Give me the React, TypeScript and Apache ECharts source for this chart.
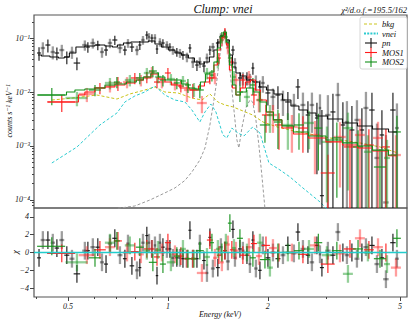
import { useEffect, useRef } from "react";
import * as echarts from "echarts";

// ---------- axis limits ----------
const E_MIN = 0.395;
const E_MAX = 5.25;
const RATE_MIN = 7.1e-5;
const RATE_MAX = 0.267;
const CHI_MIN = -5;
const CHI_MAX = 5;

const xMajorTicks = [0.5, 1, 2, 5];
const xMinorTicks = [0.4, 0.6, 0.7, 0.8, 0.9, 3, 4];
const yMajorExp = [-4, -3, -2, -1];
const chiTicks = [-4, -2, 0, 2, 4];

// ---------- pn data ----------
const pnE = [0.409,0.420,0.435,0.450,0.463,0.479,0.496,0.514,0.532,0.562,0.574,0.594,0.615,0.633,0.651,0.669,0.692,0.717,0.742,0.758,0.779,0.807,0.823,0.841,0.864,0.877,0.895,0.914,0.927,0.946,0.966,0.993,1.014,1.035,1.064,1.087,1.110,1.141,1.165,1.189,1.223,1.248,1.284,1.311,1.338,1.366,1.414,1.444,1.485,1.516,1.570,1.592,1.648,1.682,1.730,1.766,1.803,1.841,1.893,1.932,2.001,2.072,2.145,2.221,2.298,2.396,2.464,2.551,2.641,2.715,2.811,2.871,2.910,3.033,3.141,3.251,3.366,3.461,3.583,3.710,3.840,3.949,4.117,4.262,4.412,4.536,4.762,4.896];
const pnRate = [0.0528,0.0653,0.0742,0.0551,0.0528,0.0599,0.0445,0.0551,0.0344,0.0742,
0.0681,0.0808,0.0742,0.0551,0.0599,0.0808,0.0919,0.0653,0.0599,0.0808,
0.0681,0.0599,0.0742,0.0919,0.1137,0.1044,0.1,0.1,0.0626,0.0843,
0.0808,0.0742,0.0681,0.0599,0.0551,0.0528,0.0484,0.0445,0.0653,0.0359,
0.0316,0.0359,0.0303,0.0426,0.0599,0.0681,0.0808,0.1044,0.1238,0.0808,
0.0599,0.0344,0.0182,0.0182,0.0182,0.0167,0.0278,0.0153,0.0124,0.0147,
0.0096,0.0081,0.0088,0.0071,0.00654,0.00575,0.0124,0.00575,0.00375,0.00575,
0.0033,0.00506,0.00012,0.00375,0.00427,0.0088,0.00245,0.00278,0.00198,0.00304,
0.00198,0.00506,0.00464,0.0006,0.0016,0.00009,0.00464,0.00215];
const pnErr = [0.015,0.018,0.02,0.015,0.014,0.015,0.012,0.014,0.009,0.016,
0.015,0.017,0.015,0.012,0.013,0.016,0.018,0.013,0.012,0.015,
0.013,0.012,0.014,0.017,0.02,0.019,0.018,0.018,0.012,0.015,
0.014,0.013,0.012,0.011,0.010,0.010,0.009,0.009,0.012,0.008,
0.007,0.008,0.007,0.009,0.012,0.013,0.015,0.018,0.02,0.015,
0.012,0.008,0.005,0.005,0.005,0.005,0.007,0.005,0.004,0.005,
0.004,0.0035,0.004,0.0035,0.0035,0.0035,0.005,0.004,0.003,0.004,
0.003,0.004,0.0045,0.005,0.005,0.006,0.004,0.004,0.0035,0.004,
0.003,0.005,0.005,0.002,0.003,0.0015,0.005,0.004];
const pnChi = [-0.6,1.4,1.4,1.1,0.5,1.4,-0.3,-0.7,-2.4,0.2,
0.2,0.6,0.6,-1.1,-1.3,1.0,1.6,-0.3,-0.7,1.0,
-1.5,-2.0,-1.7,1.1,1.9,1.1,0.4,0.8,-2.6,1.1,
0.6,0.4,0.4,-0.6,-0.6,-0.6,-0.7,-0.7,2.5,-0.7,
-0.7,1.0,-0.9,-2.3,1.7,-1.8,-1.7,0.6,0.2,-1.0,
2.6,-0.6,0.4,0.2,-0.3,-1.3,1.4,-1.8,-2.0,0.8,
-0.6,0.0,-0.7,-0.3,0.8,-0.1,2.3,0.4,-0.3,-1.1,
0.8,-0.2,-1.7,0.2,-0.3,2.3,0.0,-0.3,0.0,-0.7,
0.0,0.6,0.8,-1.3,-0.6,-3.0,1.1,-0.7];

// ---------- MOS1 data ----------
const mos1E = [0.479,0.570,0.624,0.669,0.707,0.753,0.795,0.829,0.864,0.895,0.927,0.959,1.0,1.050,1.094,1.141,1.189,1.266,1.338,1.386,1.424,1.454,1.485,1.516,1.558,1.603,1.682,1.754,1.816,1.880,1.974,2.072,2.160,2.363,2.551,2.773,3.033,3.298,3.535,3.789,4.031,4.294,4.536,4.864];
const mos1HalfW = [0.0465,0.0316,0.026,0.023,0.0196,0.021,0.022,0.0172,0.018,0.0186,0.0193,0.020,0.0208,0.0218,0.0228,0.0237,0.0247,0.0439,0.0278,0.0192,0.0198,0.0202,0.0206,0.021,0.0216,0.0334,0.035,0.0365,0.0378,0.039,0.0548,0.0575,0.06,0.0983,0.0885,0.0962,0.147,0.137,0.147,0.131,0.14,0.149,0.126,0.169];
const mos1Rate = [0.00654,0.0092,0.0119,0.0129,0.0147,0.0153,0.0182,0.0167,0.019,0.0235,0.0153,0.0153,0.0225,0.0141,0.0129,0.0109,0.0109,0.00625,0.0182,0.0182,0.0426,0.0919,0.1238,0.0653,0.0359,0.0167,0.0167,0.019,0.0088,0.0071,0.00375,0.00375,0.00245,0.00225,0.00215,0.0016,0.000316,0.00147,0.00096,0.0016,0.00104,0.00141,0.00096,0.00068];
const mos1Err = [0.0023,0.0027,0.0028,0.0031,0.0043,0.0036,0.0043,0.004,0.0045,0.0056,0.0036,0.0036,0.0054,0.0034,0.0031,0.0044,0.0032,0.0022,0.0043,0.0043,0.01,0.022,0.029,0.0155,0.0085,0.0049,0.0049,0.0055,0.0031,0.0029,0.002,0.002,0.0016,0.0015,0.0014,0.0013,0.00037,0.0013,0.001,0.0016,0.001,0.0014,0.0011,0.0009];
const mos1Chi = [-0.1,-0.3,0.3,0.6,1.3,0.0,0.1,-0.2,0.4,0.4,-0.5,0.0,1.1,-0.2,-0.4,-0.7,-0.7,-2.3,1.4,-0.6,-0.3,-1.1,0.2,0.9,0.3,0.2,-0.3,0.6,1.0,-0.4,0.8,0.5,0.0,0.0,-0.2,0.8,-1.3,-0.1,0.4,1.6,0.3,0.6,0.0,-1.7];

// ---------- MOS2 data ----------
const mos2E = [0.447,0.532,0.603,0.669,0.702,0.768,0.823,0.864,0.901,0.933,0.966,1.021,1.064,1.110,1.149,1.198,1.248,1.311,1.357,1.414,1.454,1.495,1.537,1.581,1.648,1.730,1.803,1.893,1.960,2.029,2.145,2.298,2.482,2.66,2.838,3.012,3.228,3.486,3.738,4.003,4.353,4.57,4.896];
const mos2HalfW = [0.0434,0.0406,0.0251,0.0232,0.0146,0.0266,0.0228,0.018,0.025,0.0194,0.0201,0.0283,0.0221,0.0231,0.0239,0.0249,0.0346,0.0273,0.0188,0.0196,0.0202,0.0207,0.0213,0.0219,0.0343,0.036,0.0375,0.0394,0.068,0.0422,0.0595,0.0797,0.0861,0.0922,0.0787,0.104,0.112,0.121,0.13,0.111,0.181,0.095,0.136];
const mos2Rate = [0.0088,0.00774,0.0109,0.0147,0.0153,0.0167,0.0182,0.0225,0.0245,0.019,0.0167,0.0174,0.0147,0.016,0.0135,0.0114,0.0109,0.0225,0.0206,0.0359,0.1044,0.1044,0.0426,0.019,0.01,0.0081,0.0135,0.0071,0.00245,0.00375,0.00278,0.00245,0.00245,0.00267,0.00215,0.00119,0.00141,0.00215,0.00096,0.00078,0.000408,0.0006,0.00182];
const mos2Err = [0.0031,0.0023,0.0026,0.0035,0.0036,0.004,0.0043,0.0054,0.0058,0.0045,0.004,0.0041,0.0035,0.0038,0.0039,0.0033,0.0032,0.0054,0.0049,0.0085,0.025,0.025,0.01,0.0055,0.0035,0.0028,0.0047,0.0029,0.0013,0.002,0.0019,0.0016,0.0016,0.0018,0.0018,0.0011,0.0013,0.002,0.001,0.0008,0.00047,0.0007,0.0018];
const mos2Chi = [0.7,-1.1,-0.6,1.1,1.3,0.8,0.6,0.2,-1.1,0.3,-1.3,-1.1,-0.4,0.4,-0.7,-0.7,0.2,-0.5,1.1,0.4,0.0,1.1,3.3,0.5,1.6,0.0,-0.6,1.1,-0.8,-1.7,0.0,0.0,0.2,0.4,1.1,-0.3,0.2,-2.4,0.4,0.0,-0.7,-1.3,1.6];

// ---------- model curves ----------
const pnModelE = [0.406,0.426,0.457,0.479,0.496,0.514,0.543,0.582,0.624,0.669,0.692,0.717,0.753,0.795,0.852,0.895,0.933,0.979,1.028,1.072,1.125,1.181,1.223,1.266,1.310,1.357,1.395,1.424,1.454,1.485,1.516,1.548,1.581,1.625,1.682,1.766,1.841,1.934,2.029,2.145,2.283,2.413,2.55,2.716,2.871,3.186,3.535,3.923,4.353,4.90];
const pnModel = [0.0484,0.0464,0.0445,0.0426,0.0445,0.0528,0.0681,0.0711,0.0742,0.0711,0.0681,0.0742,0.0808,0.0843,0.0843,0.088,0.0774,0.0681,0.0599,0.0528,0.0484,0.0426,0.0359,0.033,0.0359,0.0445,0.0599,0.0843,0.109,0.1186,0.0918,0.0484,0.029,0.0225,0.0198,0.0167,0.0153,0.0124,0.0109,0.0092,0.0071,0.00551,0.00464,0.00408,0.0036,0.00316,0.00267,0.00235,0.00206,0.00182];
const mos1ModelE = [0.435,0.473,0.532,0.543,0.582,0.624,0.669,0.717,0.768,0.823,0.864,0.914,0.959,1.0,1.050,1.125,1.206,1.266,1.311,1.357,1.395,1.424,1.454,1.485,1.516,1.548,1.581,1.625,1.682,1.742,1.803,1.867,1.932,2.029,2.130,2.283,2.499,2.811,3.186,3.535,3.923,4.353,4.896];
const mos1Model = [0.00654,0.00654,0.00654,0.0088,0.0100,0.0119,0.0124,0.0135,0.0147,0.0167,0.0182,0.0215,0.0174,0.0153,0.0135,0.0119,0.0109,0.0129,0.0153,0.0182,0.0316,0.0599,0.1,0.1186,0.0742,0.0255,0.0119,0.0088,0.0119,0.0153,0.0167,0.0109,0.0071,0.00427,0.00304,0.00215,0.00167,0.00141,0.00119,0.00104,0.00092,0.00081,0.00066];
const mos2ModelE = [0.406,0.441,0.483,0.507,0.543,0.582,0.624,0.669,0.717,0.784,0.823,0.864,0.914,0.959,1.0,1.072,1.125,1.181,1.231,1.275,1.320,1.357,1.395,1.424,1.454,1.485,1.516,1.548,1.581,1.625,1.682,1.766,1.854,1.932,2.029,2.130,2.283,2.499,2.811,3.186,3.535,3.923,4.353,4.896];
const mos2Model = [0.0088,0.0088,0.0088,0.0100,0.0109,0.0114,0.0119,0.0135,0.0141,0.0153,0.0167,0.0190,0.0225,0.0190,0.0167,0.0167,0.0141,0.0119,0.0114,0.0153,0.0215,0.0235,0.0359,0.0653,0.109,0.129,0.0843,0.0316,0.0135,0.0088,0.0100,0.0119,0.0100,0.00654,0.00427,0.00304,0.00236,0.00182,0.00153,0.00129,0.00114,0.0010,0.00084,0.00068];
const bkgE = [0.447,0.517,0.611,0.702,0.768,0.852,0.914,0.979,1.072,1.181,1.266,1.338,1.414,1.485,1.569,1.706,1.80,1.934,2.130,2.331,2.55,2.871,3.298,3.789,4.353,4.90];
const bkgRate = [0.0071,0.00774,0.0088,0.00741,0.00919,0.0109,0.0124,0.0100,0.0096,0.00774,0.0071,0.0092,0.00654,0.00575,0.0053,0.0043,0.00375,0.00278,0.00226,0.00198,0.00175,0.00154,0.00129,0.00114,0.00096,0.00075];
const vneiE = [0.447,0.532,0.624,0.702,0.742,0.795,0.852,0.914,0.979,1.050,1.125,1.181,1.248,1.293,1.347,1.395,1.464,1.505,1.558,1.625,1.694,1.80,1.893,2.015,2.175,2.331,2.55,2.871,3.077];
const vneiRate = [0.000484,0.000957,0.00245,0.00408,0.00654,0.00844,0.0100,0.0129,0.0088,0.0071,0.00654,0.00464,0.00278,0.00427,0.0060,0.00427,0.0016,0.00141,0.00215,0.00174,0.00153,0.00225,0.00174,0.000484,0.00036,0.000267,0.000167,0.0000919,0.00006];
const lineE = [0.707,0.795,0.883,0.979,1.050,1.125,1.181,1.248,1.293,1.338,1.376,1.405,1.434,1.464,1.485,1.516,1.548,1.581,1.614,1.636,1.670,1.718,1.766,1.80,1.841,1.879,1.918,1.960];
const lineRate = [0.00007,0.0000774,0.0001,0.000135,0.000167,0.00023,0.00033,0.00055,0.00092,0.00245,0.0071,0.0167,0.0484,0.0918,0.109,0.0599,0.0167,0.00464,0.00129,0.00092,0.00215,0.00506,0.0071,0.00654,0.00304,0.00104,0.00029,0.00007];

// ---------- helpers ----------
const lg = Math.log10;
const X_MIN = lg(E_MIN);
const X_MAX = lg(E_MAX);
const Y_MIN = lg(RATE_MIN);
const Y_MAX = lg(RATE_MAX);
const FONT = '"Liberation Serif", "DejaVu Serif", serif';

const C_BLACK = "#111111";
const C_BLACK_L = "rgba(0,0,0,0.38)";
const C_RED = "#ff1a1a";
const C_RED_L = "rgba(255,40,40,0.45)";
const C_GREEN = "#14901a";
const C_GREEN_L = "rgba(20,150,30,0.45)";
const C_BKG = "#cbc51c";
const C_VNEI = "#2ccbd0";
const C_LINE = "#9a9a9a";
const C_ZERO = "#22cccc";

function halfWidths(E: number[], hw?: number[]): number[] {
  return E.map((e, i) => {
    if (hw) return hw[i];
    const prev = i > 0 ? E[i - 1] : e - (E[i + 1] - e);
    const next = i < E.length - 1 ? E[i + 1] : e + (e - E[i - 1]);
    return (next - prev) / 4;
  });
}

function rateItems(E: number[], rate: number[], err: number[], hw?: number[]) {
  const h = halfWidths(E, hw);
  return E.map((e, i) => {
    const v = rate[i];
    const lo = v - err[i] > 0 ? Math.max(lg(v - err[i]), Y_MIN) : Y_MIN;
    const hi = Math.min(lg(v + err[i]), Y_MAX);
    return [lg(e), Math.max(lg(v), Y_MIN), lg(e - h[i]), lg(e + h[i]), lo, hi];
  });
}

function chiItems(E: number[], chi: number[], hw?: number[]) {
  const h = halfWidths(E, hw);
  return E.map((e, i) => [lg(e), chi[i], lg(e - h[i]), lg(e + h[i]), chi[i] - 1, chi[i] + 1]);
}

function crossSeries(name: string, items: number[][], gi: number, dark: string, light: string, z: number) {
  return {
    type: "custom",
    name,
    xAxisIndex: gi === 0 ? 0 : 1,
    yAxisIndex: gi === 0 ? 0 : 2,
    z,
    silent: true,
    data: items,
    encode: { x: [0, 2, 3], y: [1, 4, 5] },
    renderItem: (params: any, api: any) => {
      const i = params.dataIndex;
      const x = api.value(0), y = api.value(1);
      const a = api.coord([api.value(2), y]);
      const b = api.coord([api.value(3), y]);
      const c = api.coord([x, api.value(4)]);
      const d = api.coord([x, api.value(5)]);
      const faded = i % 2 === 1;
      const stroke = faded ? light : dark;
      const lw = faded ? 2.3 : 1.1;
      return {
        type: "group",
        children: [
          { type: "line", shape: { x1: a[0], y1: a[1], x2: b[0], y2: b[1] }, style: { stroke, lineWidth: lw } },
          { type: "line", shape: { x1: c[0], y1: c[1], x2: d[0], y2: d[1] }, style: { stroke, lineWidth: lw } },
        ],
      };
    },
  };
}

function curve(name: string, E: number[], V: number[], color: string, width: number, dashed: boolean, step: boolean, z: number) {
  return {
    type: "line",
    name,
    xAxisIndex: 0,
    yAxisIndex: 0,
    z,
    silent: true,
    symbol: "none",
    showSymbol: false,
    step: step ? "middle" : false,
    data: E.map((e, i) => [lg(e), lg(V[i])]),
    lineStyle: { color, width, type: dashed ? [3, 2] : "solid" },
  };
}

const SUP: Record<string, string> = { "-": "\u207B", "1": "\u00B9", "2": "\u00B2", "3": "\u00B3", "4": "\u2074" };
const sup = (s: string) => s.split("").map((ch) => SUP[ch] || ch).join("");

const noLine = { show: false, onZero: false };

function buildOption() {
  const yMinor: number[] = [];
  for (let n = -5; n <= -1; n++)
    for (let k = 2; k <= 9; k++) {
      const v = lg(k * Math.pow(10, n));
      if (v > Y_MIN && v < Y_MAX) yMinor.push(v);
    }
  const tickLine = { color: "#444", width: 1 };
  const labelStyle = { fontFamily: FONT, fontStyle: "italic", fontSize: 8, color: "#222" };

  const legendX = 360, legendY = 17;
  const legendRows = [
    { label: "bkg", kind: "dash", color: C_BKG, y: 24 },
    { label: "vnei", kind: "dot", color: C_VNEI, y: 33.5 },
    { label: "pn", kind: "cross", color: C_BLACK, y: 43 },
    { label: "MOS1", kind: "cross", color: C_RED, y: 52.5 },
    { label: "MOS2", kind: "cross", color: C_GREEN, y: 62 },
  ];
  const legendEls: any[] = [
    { type: "rect", shape: { x: legendX, y: legendY, width: 47, height: 52, r: 2 }, style: { fill: "#fff", stroke: "#ccc", lineWidth: 0.8 }, z: 100 },
  ];
  legendRows.forEach((r) => {
    if (r.kind === "cross") {
      legendEls.push({ type: "line", shape: { x1: 365, y1: r.y, x2: 377, y2: r.y }, style: { stroke: r.color, lineWidth: 1.1 }, z: 101 });
      legendEls.push({ type: "line", shape: { x1: 371, y1: r.y - 5, x2: 371, y2: r.y + 5 }, style: { stroke: r.color, lineWidth: 1.1 }, z: 101 });
    } else {
      legendEls.push({
        type: "line",
        shape: { x1: 364, y1: r.y, x2: 378, y2: r.y },
        style: { stroke: r.color, lineWidth: r.kind === "dot" ? 2 : 1, lineDash: r.kind === "dot" ? [2, 1.2] : [3, 2] },
        z: 101,
      });
    }
    legendEls.push({
      type: "text",
      x: 382,
      y: r.y,
      style: { text: r.label, fill: "#111", font: `italic 8.5px ${FONT}`, align: "left", verticalAlign: "middle" },
      z: 101,
    });
  });

  return {
    animation: false,
    backgroundColor: "#fff",
    grid: [
      { left: 34, top: 15, width: 373, height: 193, show: true, borderColor: "#555", borderWidth: 1.2, backgroundColor: "transparent" },
      { left: 34, top: 208, width: 373, height: 89, show: true, borderColor: "#555", borderWidth: 1.2, backgroundColor: "transparent" },
    ],
    xAxis: [
      { type: "value", gridIndex: 0, min: X_MIN, max: X_MAX, axisLine: noLine, axisTick: { show: false }, axisLabel: { show: false }, splitLine: { show: false } },
      {
        type: "value", gridIndex: 1, min: X_MIN, max: X_MAX, position: "bottom",
        axisLine: noLine,
        axisTick: { show: true, inside: false, length: 4, customValues: xMajorTicks.map(lg), lineStyle: tickLine },
        axisLabel: {
          show: true, margin: 5, customValues: xMajorTicks.map(lg), ...labelStyle,
          formatter: (v: number) => {
            const e = Math.pow(10, v);
            let best = xMajorTicks[0];
            xMajorTicks.forEach((t) => { if (Math.abs(t - e) < Math.abs(best - e)) best = t; });
            return String(best);
          },
        },
        splitLine: { show: false },
      },
      {
        type: "value", gridIndex: 1, min: X_MIN, max: X_MAX, position: "bottom",
        axisLine: noLine,
        axisTick: { show: true, inside: false, length: 2, customValues: xMinorTicks.map(lg), lineStyle: tickLine },
        axisLabel: { show: false },
        splitLine: { show: false },
      },
    ],
    yAxis: [
      {
        type: "value", gridIndex: 0, min: Y_MIN, max: Y_MAX, position: "left",
        axisLine: noLine,
        axisTick: { show: true, inside: false, length: 4, customValues: yMajorExp, lineStyle: tickLine },
        axisLabel: {
          show: true, margin: 4, customValues: yMajorExp, ...labelStyle,
          formatter: (v: number) => "10" + sup(String(Math.round(v))),
        },
        splitLine: { show: false },
      },
      {
        type: "value", gridIndex: 0, min: Y_MIN, max: Y_MAX, position: "left", offset: 0,
        axisLine: noLine,
        axisTick: { show: true, inside: false, length: 2, customValues: yMinor, lineStyle: tickLine },
        axisLabel: { show: false },
        splitLine: { show: false },
      },
      {
        type: "value", gridIndex: 1, min: CHI_MIN, max: CHI_MAX, position: "left",
        axisLine: noLine,
        axisTick: { show: true, inside: false, length: 4, customValues: chiTicks, lineStyle: tickLine },
        axisLabel: {
          show: true, margin: 5, customValues: chiTicks, ...labelStyle,
          formatter: (v: number) => (v < 0 ? "\u2212" + Math.abs(v) : String(v)),
        },
        splitLine: { show: false },
      },
    ],
    series: [
      curve("line", lineE, lineRate, C_LINE, 1, true, false, 1),
      curve("bkg", bkgE, bkgRate, C_BKG, 1, true, false, 1),
      curve("vnei", vneiE, vneiRate, C_VNEI, 1, true, false, 1),
      crossSeries("pn", rateItems(pnE, pnRate, pnErr), 0, C_BLACK, C_BLACK_L, 2),
      crossSeries("MOS1", rateItems(mos1E, mos1Rate, mos1Err, mos1HalfW), 0, C_RED, C_RED_L, 2),
      crossSeries("MOS2", rateItems(mos2E, mos2Rate, mos2Err, mos2HalfW), 0, C_GREEN, C_GREEN_L, 2),
      curve("pn model", pnModelE, pnModel, C_BLACK, 1.1, false, true, 3),
      curve("MOS1 model", mos1ModelE, mos1Model, C_RED, 1.1, false, true, 3),
      curve("MOS2 model", mos2ModelE, mos2Model, C_GREEN, 1.1, false, true, 3),
      crossSeries("pn chi", chiItems(pnE, pnChi), 1, C_BLACK, C_BLACK_L, 2),
      crossSeries("MOS1 chi", chiItems(mos1E, mos1Chi, mos1HalfW), 1, C_RED, C_RED_L, 2),
      crossSeries("MOS2 chi", chiItems(mos2E, mos2Chi, mos2HalfW), 1, C_GREEN, C_GREEN_L, 2),
      {
        type: "line", name: "zero", xAxisIndex: 1, yAxisIndex: 2, z: 4, silent: true, symbol: "none",
        data: [[X_MIN, 0], [X_MAX, 0]],
        lineStyle: { color: C_ZERO, width: 1.3 },
      },
    ],
    graphic: [
      { type: "text", x: 223, y: 9, style: { text: "Clump: vnei", fill: "#111", font: `italic 12px ${FONT}`, align: "center", verticalAlign: "middle" } },
      { type: "text", x: 407, y: 10, style: { text: "\u03C7\u00B2/d.o.f.=195.5/162", fill: "#111", font: `italic 8.5px ${FONT}`, align: "right", verticalAlign: "middle" } },
      { type: "text", x: 9, y: 111, rotation: Math.PI / 2, style: { text: "counts s\u207B\u00B9 keV\u207B\u00B9", fill: "#111", font: `italic 8px ${FONT}`, align: "center", verticalAlign: "middle" } },
      { type: "text", x: 15, y: 252, rotation: Math.PI / 2, style: { text: "\u03C7", fill: "#111", font: `italic 9px ${FONT}`, align: "center", verticalAlign: "middle" } },
      { type: "text", x: 220, y: 314, style: { text: "Energy (keV)", fill: "#111", font: `italic 8px ${FONT}`, align: "center", verticalAlign: "middle" } },
      ...legendEls,
    ],
  };
}

export default function App() {
  const ref = useRef<HTMLDivElement>(null);
  useEffect(() => {
    document.body.style.margin = "0";
    const chart = echarts.init(ref.current!, undefined, { renderer: "svg" });
    chart.setOption(buildOption() as any);
    return () => chart.dispose();
  }, []);
  return <div ref={ref} style={{ width: 412, height: 321, position: "absolute", left: 0, top: 0, background: "#fff" }} />;
}
